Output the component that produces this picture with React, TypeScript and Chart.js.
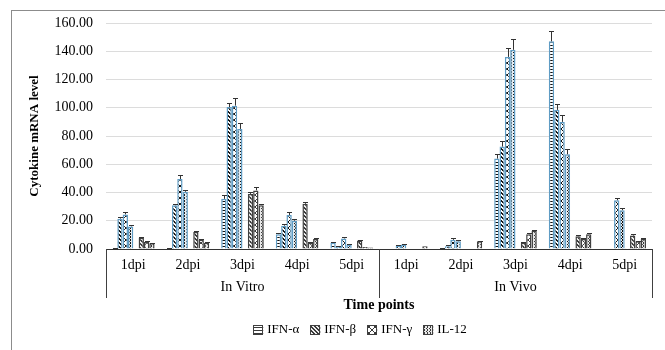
import React, { useEffect, useRef } from 'react';
import { Chart, registerables } from 'chart.js';

Chart.register(...registerables);

// ---- data ----
const dpiLabels = ['1dpi', '2dpi', '3dpi', '4dpi', '5dpi', '1dpi', '2dpi', '3dpi', '4dpi', '5dpi'];
const groupLabels = ['In Vitro', 'In Vivo'];
const seriesNames = ['IFN-α', 'IFN-β', 'IFN-γ', 'IL-12'];
const yTickValues = [0, 20, 40, 60, 80, 100, 120, 140, 160];

// first (blue-outlined) set of bars
const ifnAlphaA = [0.5, 0.6, 35.5, 10.5, 4.5, 0.3, 0.5, 64, 147, 0.4];
const ifnBetaA = [21.5, 31, 100.5, 16.5, 1.5, 0.4, 2, 72.5, 98.5, 0.4];
const ifnGammaA = [24.5, 49.5, 101.5, 24, 7.5, 2.5, 6.5, 136, 90, 34.5];
const il12A = [16, 40.5, 85, 20, 3, 3.2, 5.5, 141, 67, 27.5];
// second (grey-outlined) set of bars
const ifnAlphaB = [0.4, 0.4, 0.4, 0.4, 0.4, 0.3, 0.3, 0.4, 0.4, 0.6];
const ifnBetaB = [8, 12, 39, 32, 6, 0.3, 0.3, 4.5, 9, 9.5];
const ifnGammaB = [5, 6.5, 41.5, 4.5, 1.5, 0.4, 0.3, 10.5, 7, 5.5];
const il12B = [4, 4.5, 31, 7, 1, 2, 5.5, 13, 10.5, 7];

// error bar half-widths
const errAlphaA = [0.3, 0.3, 2.5, 1, 0.5, 0.2, 0.3, 3.5, 7, 0.2];
const errBetaA = [1, 1, 3, 1.5, 0.3, 0.2, 0.5, 4, 4, 0.2];
const errGammaA = [2, 3, 5.5, 2.5, 0.8, 0.5, 1, 6, 5, 1.5];
const errIl12A = [1, 1.5, 4, 1.5, 0.5, 0.5, 0.8, 7.5, 3.5, 1.2];
const errAlphaB = [0.1, 0.1, 0.1, 0.1, 0.1, 0.1, 0.1, 0.1, 0.1, 0.1];
const errBetaB = [0.5, 0.6, 1.5, 1.5, 0.4, 0.1, 0.1, 0.5, 0.8, 0.8];
const errGammaB = [0.4, 0.5, 2.5, 0.4, 0.2, 0.1, 0.1, 0.8, 0.6, 0.5];
const errIl12B = [0.3, 0.4, 1.2, 0.5, 0.2, 0.2, 0.5, 0.8, 0.8, 0.6];

const SERIF = "'Liberation Serif', 'Times New Roman', serif";

function makePattern(kind: string, fg: string, bg: string): CanvasPattern | string {
  const c = document.createElement('canvas');
  const s = kind === 'x' ? 6 : kind === 'g' ? 3 : kind === 'h' ? 3 : 4;
  c.width = s;
  c.height = s;
  const g = c.getContext('2d');
  if (!g) return bg;
  g.fillStyle = bg;
  g.fillRect(0, 0, s, s);
  g.fillStyle = fg;
  if (kind === 'h') {
    g.fillRect(0, 0, s, 1);
  } else if (kind === 'd') {
    for (let i = 0; i < s; i++) {
      g.fillRect(i, i, 1, 1);
      g.fillRect((i + 1) % s, i, 1, 1);
    }
  } else if (kind === 'x') {
    for (let i = 0; i < s; i++) {
      g.fillRect(i, i, 1, 1);
      g.fillRect(s - 1 - i, i, 1, 1);
    }
  } else if (kind === 'g') {
    g.fillRect(1, 0, 1, 1);
    g.fillRect(1, 2, 1, 1);
    g.fillRect(0, 1, 1, 1);
  }
  const p = g.createPattern(c, 'repeat');
  return p || bg;
}

export default function App() {
  const ref = useRef<HTMLCanvasElement | null>(null);

  useEffect(() => {
    const canvas = ref.current;
    if (!canvas) return;

    const kinds = ['h', 'd', 'x', 'g'];
    const setA = [ifnAlphaA, ifnBetaA, ifnGammaA, il12A];
    const setB = [ifnAlphaB, ifnBetaB, ifnGammaB, il12B];
    const errA = [errAlphaA, errBetaA, errGammaA, errIl12A];
    const errB = [errAlphaB, errBetaB, errGammaB, errIl12B];
    const bgA = ['#ffffff', '#ffffff', '#ffffff', '#e6ecf0'];
    const bgB = ['#ffffff', '#eeeeee', '#ffffff', '#e8e8e8'];

    const datasets: any[] = [];
    const errors: number[][] = [];
    setA.forEach((d, i) => {
      datasets.push({
        label: seriesNames[i],
        data: d,
        backgroundColor: makePattern(kinds[i], '#111111', bgA[i]),
        borderColor: '#5f9cc4',
        borderWidth: 1.5,
      });
      errors.push(errA[i]);
    });
    setB.forEach((d, i) => {
      datasets.push({
        label: seriesNames[i],
        data: d,
        backgroundColor: makePattern(kinds[i], '#3a3a3a', bgB[i]),
        borderColor: '#404040',
        borderWidth: 1.5,
        legendShown: true,
      });
      errors.push(errB[i]);
    });

    const errorBars = {
      id: 'errorBars',
      afterDatasetsDraw(chart: any) {
        const ctx = chart.ctx;
        const y = chart.scales.y;
        ctx.save();
        ctx.strokeStyle = '#333333';
        ctx.lineWidth = 1;
        chart.data.datasets.forEach((ds: any, di: number) => {
          const meta = chart.getDatasetMeta(di);
          meta.data.forEach((el: any, i: number) => {
            const v = ds.data[i];
            const e = errors[di][i];
            if (!e || e < 0.3) return;
            const x = Math.round(el.x) + 0.5;
            const yTop = Math.round(y.getPixelForValue(v + e)) + 0.5;
            const yBar = y.getPixelForValue(v);
            ctx.beginPath();
            ctx.moveTo(x, yBar);
            ctx.lineTo(x, yTop);
            ctx.moveTo(x - 2.5, yTop);
            ctx.lineTo(x + 2.5, yTop);
            ctx.stroke();
          });
        });
        ctx.restore();
      },
    };

    const decorations = {
      id: 'decorations',
      afterDraw(chart: any) {
        const ctx = chart.ctx;
        const area = chart.chartArea;
        const xs = chart.scales.x;
        const left = area.left;
        const right = area.right;
        const mid = (xs.getPixelForValue(4) + xs.getPixelForValue(5)) / 2;
        const base = area.bottom;
        ctx.save();
        // outer frame
        ctx.strokeStyle = '#8c8c8c';
        ctx.lineWidth = 1;
        ctx.strokeRect(11.5, 10.5, 800, 600);
        // multi-level category separators
        ctx.strokeStyle = '#404040';
        ctx.beginPath();
        [left, mid, right].forEach((px) => {
          const xx = Math.round(px) + 0.5;
          ctx.moveTo(xx, base);
          ctx.lineTo(xx, 298);
        });
        ctx.stroke();
        // group labels
        ctx.fillStyle = '#000';
        ctx.font = `14px ${SERIF}`;
        ctx.textAlign = 'center';
        ctx.textBaseline = 'middle';
        ctx.fillText(groupLabels[0], (left + mid) / 2, 287);
        ctx.fillText(groupLabels[1], (mid + right) / 2, 287);
        // x title
        ctx.font = `bold 14px ${SERIF}`;
        ctx.fillText('Time points', (left + right) / 2, 305);
        // y title
        ctx.save();
        ctx.translate(35, (area.top + area.bottom) / 2);
        ctx.rotate(-Math.PI / 2);
        ctx.font = `bold 13px ${SERIF}`;
        ctx.fillText('Cytokine mRNA level', 0, 0);
        ctx.restore();
        // legend
        ctx.font = `13px ${SERIF}`;
        ctx.textAlign = 'left';
        const items = chart.data.datasets.filter((d: any) => d.legendShown);
        const box = 10;
        const gap = 4;
        const spacing = 11;
        const widths = items.map((d: any) => box + gap + ctx.measureText(d.label).width);
        const total = widths.reduce((a: number, b: number) => a + b, 0) + spacing * (items.length - 1);
        let x = 360 - total / 2;
        const ly = 330;
        items.forEach((d: any, i: number) => {
          ctx.fillStyle = d.backgroundColor;
          ctx.fillRect(x, ly - box / 2, box, box);
          ctx.strokeStyle = '#404040';
          ctx.strokeRect(Math.round(x) + 0.5, Math.round(ly - box / 2) + 0.5, box - 1, box - 1);
          ctx.fillStyle = '#000';
          ctx.fillText(d.label, x + box + gap, ly);
          x += widths[i] + spacing;
        });
        ctx.restore();
      },
    };

    const chart = new Chart(canvas, {
      type: 'bar',
      data: { labels: dpiLabels, datasets },
      options: {
        responsive: false,
        animation: false,
        layout: { padding: { left: 0, right: 13, top: 23, bottom: 0 } },
        datasets: { bar: { categoryPercentage: 0.78, barPercentage: 1 } },
        plugins: { legend: { display: false }, tooltip: { enabled: false } },
        scales: {
          x: {
            grid: { display: false, drawTicks: false },
            border: { display: true, color: '#333333', width: 1 },
            ticks: { color: '#000', font: { family: SERIF, size: 14 }, padding: 8, maxRotation: 0, autoSkip: false },
            afterFit: (s: any) => { s.height = 101; },
          },
          y: {
            min: 0,
            max: 160,
            afterBuildTicks: (s: any) => { s.ticks = yTickValues.map((v) => ({ value: v })); },
            ticks: { color: '#000', font: { family: SERIF, size: 14 }, padding: 13, callback: (v: any) => Number(v).toFixed(2) },
            grid: { color: '#dcdcdc', drawTicks: false },
            border: { display: false },
            afterFit: (s: any) => { s.width = 106; },
          },
        },
      } as any,
      plugins: [errorBars, decorations],
    });
    return () => chart.destroy();
  }, []);

  return (
    <div style={{ position: 'absolute', left: 0, top: 0, width: 665, height: 350, background: '#fff' }}>
      <canvas ref={ref} width={665} height={350} style={{ width: 665, height: 350 }} />
    </div>
  );
}
